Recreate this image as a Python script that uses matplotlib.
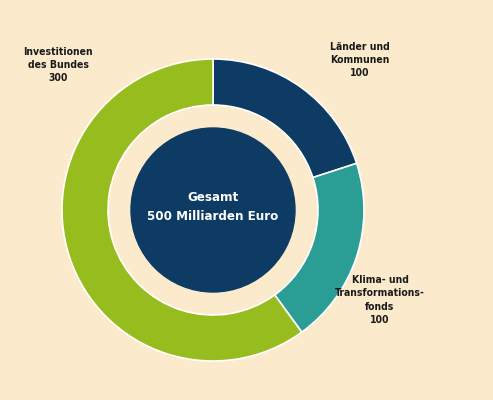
import matplotlib
matplotlib.use("Agg")
import matplotlib.pyplot as plt
from matplotlib.patches import Circle

categories = ["Länder und\nKommunen\n100", "Klima- und\nTransformations-\nfonds\n100", "Investitionen\ndes Bundes\n300"]
values = [100, 100, 300]
colors = ["#0D3B63", "#2A9D95", "#97BC1E"]
center_title = "Gesamt\n500 Milliarden Euro"

bg = "#FBEBCC"
fig = plt.figure(figsize=(4.93, 4.0), dpi=100, facecolor=bg)
ax = fig.add_axes([0, 0, 1, 1])
ax.set_facecolor(bg)

cx, cy = 213, 190
ax.pie(values, colors=colors, startangle=90, counterclock=False, radius=151, center=(cx, cy),
       wedgeprops=dict(width=46, edgecolor="white", linewidth=1.2), frame=True)
ax.set_xlim(0, 493); ax.set_ylim(0, 400); ax.set_aspect("equal"); ax.axis("off")
ax.add_patch(Circle((cx, cy), 82, color="#0D3B63", zorder=3))

fam = ["DejaVu Sans"]
ax.text(cx, cy + 3, center_title, ha="center", va="center", color="white", fontsize=9.5,
        fontweight="bold", family=fam, fontstretch="condensed", linespacing=1.55, zorder=4)
pos = [(360, 340), (380, 100), (58, 335)]
for lab, (x, y) in zip(categories, pos):
    ax.text(x, y, lab, ha="center", va="center", fontsize=7.5, fontweight="bold",
            family=fam, fontstretch="condensed", color="#1a1a1a", linespacing=1.4)
fig.savefig("out.png", dpi=100, facecolor=bg)
